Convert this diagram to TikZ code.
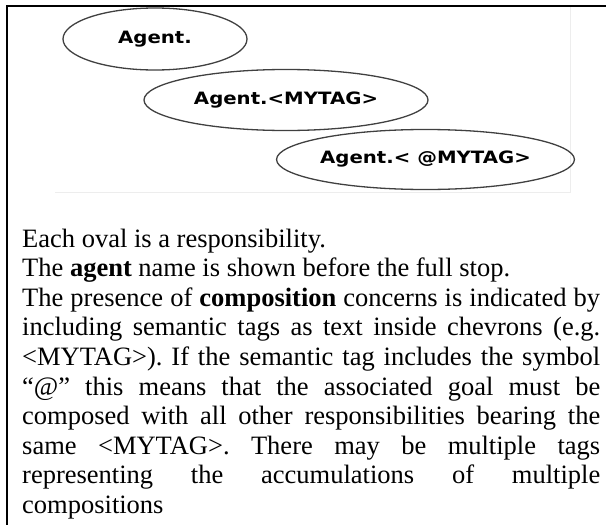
\documentclass[tikz,border=0pt]{standalone}
\usepackage{fontspec}
\setmainfont{Liberation Serif}
\newfontfamily\tagfont{DejaVu Sans}[FakeStretch=1.16]
\usetikzlibrary{shapes.geometric}
\frenchspacing
\tikzset{
  resp/.style={ellipse, draw=black!75, line width=1.3pt, inner sep=0pt,
    font=\tagfont\bfseries\fontsize{17}{17}\selectfont},
  bodyline/.style={anchor=base west, inner sep=0pt,
    font=\fontsize{26.5}{30}\selectfont},
  frameline/.style={line width=2pt, black},
  imgedge/.style={line width=0.8pt, black!7}
}
\newcommand{\jline}[1]{\makebox[578pt][s]{#1}}
\begin{document}
\begin{tikzpicture}[x=1pt,y=-1pt]
\useasboundingbox (0,0) rectangle (606,525);
% faint edge of the pasted diagram image
\coordinate (imgtr) at (570,7);
\coordinate (imgbr) at (570,192);
\coordinate (imgbl) at (55,192);
\draw[imgedge] (imgtr) -- (imgbr) -- (imgbl);
% frame
\coordinate (ftl) at (7,6);
\coordinate (ftr) at (606,6);
\coordinate (fbl) at (7,525);
\draw[frameline] (ftr) -- (ftl) -- (fbl);
% responsibilities
\node[resp, minimum width=184pt, minimum height=62pt] (r1) at (155,39) {Agent.};
\node[resp, minimum width=284pt, minimum height=61pt] (r2) at (286,100) {Agent.<MYTAG>};
\node[resp, minimum width=283pt, minimum height=60pt] (r3) at (425.5,159.5) {Agent.< @MYTAG>};
% text
\node[bodyline] (t1) at (22,247) {Each oval is a responsibility.};
\node[bodyline] (t2) at (22,276.6) {The \textbf{agent} name is shown before the full stop.};
\node[bodyline] (t3) at (22,306.2) {\jline{The presence of \textbf{composition} concerns is indicated by}};
\node[bodyline] (t4) at (22,335.8) {\jline{including semantic tags as text inside chevrons (e.g.}};
\node[bodyline] (t5) at (22,365.4) {\jline{<MYTAG>). If the semantic tag includes the symbol}};
\node[bodyline] (t6) at (22,395) {\jline{“@” this means that the associated goal must be}};
\node[bodyline] (t7) at (22,424.6) {\jline{composed with all other responsibilities bearing the}};
\node[bodyline] (t8) at (22,454.2) {\jline{same <MYTAG>. There may be multiple tags}};
\node[bodyline] (t9) at (22,483.8) {\jline{representing the accumulations of multiple}};
\node[bodyline] (t10) at (22,513.4) {compositions};
\end{tikzpicture}
\end{document}
